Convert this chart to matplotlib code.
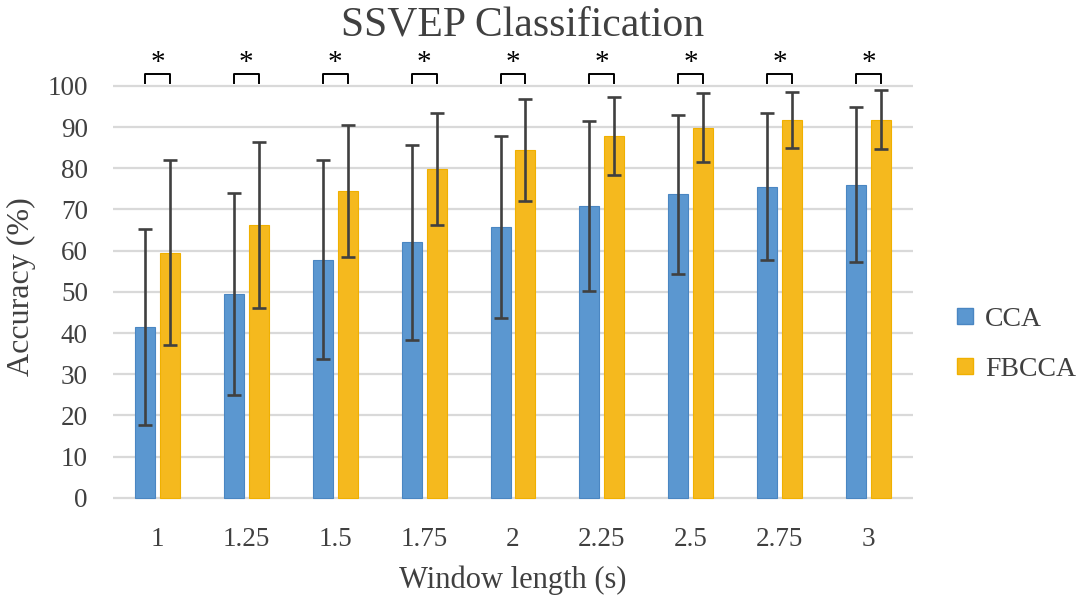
import matplotlib
matplotlib.use("Agg")
import matplotlib.pyplot as plt
import numpy as np
from matplotlib.patches import Patch

windows = ["1", "1.25", "1.5", "1.75", "2", "2.25", "2.5", "2.75", "3"]
cca_mean = [41.5, 49.5, 57.8, 62.0, 65.7, 70.8, 73.7, 75.5, 76.0]
cca_sd = [23.8, 24.5, 24.2, 23.7, 22.0, 20.7, 19.3, 17.8, 18.8]
fbcca_mean = [59.5, 66.2, 74.5, 79.8, 84.5, 87.8, 89.8, 91.8, 91.8]
fbcca_sd = [22.5, 20.1, 16.0, 13.6, 12.4, 9.5, 8.4, 6.8, 7.2]
significant = [True] * 9

plt.rcParams['font.family'] = ['Liberation Serif', 'DejaVu Serif']
text_col = '#404040'
blue = '#5B97D0'
gold = '#F5B91E'

fig = plt.figure(figsize=(10.84, 6.04), dpi=100)
ax = fig.add_axes([0.1042, 0.169, 0.738, 0.7435])

x = np.arange(len(windows))
w = 0.225
off = 0.14
err_kw = dict(ecolor='#404040', elinewidth=1.9, capsize=4.7, capthick=1.9)
ax.bar(x - off, cca_mean, w, yerr=cca_sd, color=blue, edgecolor='#4A86C2',
       linewidth=0.8, error_kw=err_kw, zorder=3, label='CCA')
ax.bar(x + off, fbcca_mean, w, yerr=fbcca_sd, color=gold, edgecolor='#F0B000',
       linewidth=0.8, error_kw=err_kw, zorder=3, label='FBCCA')

# significance brackets
for i, sig in enumerate(significant):
    if not sig:
        continue
    ax.plot([i - off, i - off, i + off, i + off], [100.8, 102.9, 102.9, 100.8],
            color='black', lw=1.4, clip_on=False, zorder=4)
    ax.text(i, 102.4, '*', ha='center', va='bottom', fontsize=21,
            color='black', clip_on=False)

ax.set_xlim(-0.5, 8.5)
ax.set_ylim(-1, 108)
ax.set_yticks(range(0, 101, 10))
ax.set_xticks(x)
ax.set_xticklabels(windows)
ax.yaxis.grid(True, color='#D9D9D9', lw=1.6, zorder=0)
ax.set_axisbelow(True)
for s in ax.spines.values():
    s.set_visible(False)
ax.tick_params(axis='both', length=0, labelsize=19.5, colors=text_col)
ax.tick_params(axis='y', pad=18)
ax.tick_params(axis='x', pad=18)

ax.set_xlabel('Window length (s)', fontsize=22, color=text_col, labelpad=10)
ax.set_ylabel('Accuracy (%)', fontsize=23, color=text_col)
ax.yaxis.set_label_coords(-0.096, 0.479)
fig.text(0.482, 0.958, 'SSVEP Classification', ha='center', va='center',
         fontsize=30, color=text_col)

handles = [Patch(facecolor=blue, edgecolor='#4A86C2'),
           Patch(facecolor=gold, edgecolor='#F0B000')]
leg = fig.legend(handles, ['CCA', 'FBCCA'], loc='center left',
                 bbox_to_anchor=(0.860, 0.43), frameon=False, fontsize=20,
                 handlelength=0.55, handleheight=0.55, handletextpad=0.45,
                 labelspacing=0.9)
for t in leg.get_texts():
    t.set_color(text_col)

fig.savefig('out.png', dpi=100)
